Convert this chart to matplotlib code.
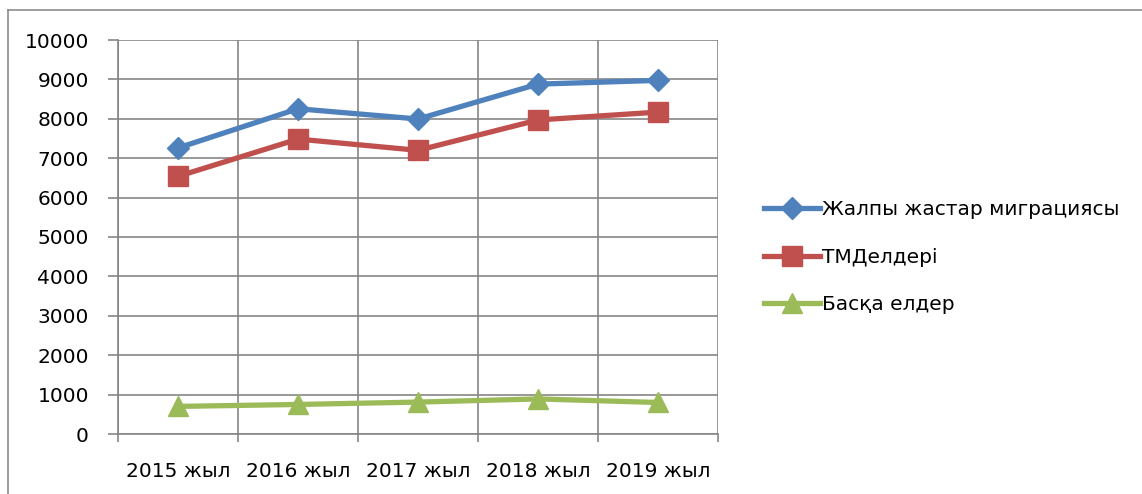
import numpy as np
import matplotlib.pyplot as plt
from matplotlib.lines import Line2D

plt.rcParams['font.family'] = ['DejaVu Sans']

# data
years = ["2015 жыл", "2016 жыл", "2017 жыл", "2018 жыл", "2019 жыл"]
total = [7260, 8255, 7995, 8880, 8975]
cis = [6540, 7485, 7200, 7970, 8170]
other = [700, 750, 810, 890, 800]
names = ["Жалпы жастар миграциясы", "ТМДелдері", "Басқа елдер"]

fig = plt.figure(figsize=(11.42, 4.94), dpi=100)
W, H = 1142, 494
ax = fig.add_axes([118 / W, 1 - 434 / H, 600 / W, 394 / H])

x = np.arange(len(years))
ax.plot(x, total, color='#4F81BD', lw=3.8, marker='D', ms=11, label=names[0])
ax.plot(x, cis, color='#C0504D', lw=3.8, marker='s', ms=14, label=names[1])
ax.plot(x, other, color='#9BBB59', lw=3.8, marker='^', ms=14, label=names[2])

ax.set_xlim(-0.5, 4.5)
ax.set_ylim(0, 10000)
ax.set_yticks(np.arange(0, 10001, 1000))
ax.set_xticks(x)
ax.set_xticklabels(years)
ax.set_xticks(np.arange(-0.5, 4.6, 1), minor=True)
ax.grid(True, which='major', axis='y', color='#868686', lw=1.2)
ax.grid(True, which='minor', axis='x', color='#868686', lw=1.2)
ax.set_axisbelow(True)
for s in ['top', 'right']:
    ax.spines[s].set_visible(False)
for s in ['left', 'bottom']:
    ax.spines[s].set_color('#868686')
    ax.spines[s].set_linewidth(1.2)
ax.tick_params(axis='x', which='major', length=0, pad=20, labelsize=14.5)
ax.tick_params(axis='x', which='minor', length=6, color='#868686', width=1.2)
ax.tick_params(axis='y', length=7, color='#868686', width=1.2, pad=14, labelsize=14.5)

leg = fig.legend(loc='upper left', bbox_to_anchor=(756 / W, 1 - 192 / H), frameon=False,
                 fontsize=14.5, handlelength=2.8, handletextpad=0.1, labelspacing=1.42,
                 borderaxespad=0)

# outer chart frame (top and left edges visible)
fig.add_artist(Line2D([8 / W, 1], [1 - 10.5 / H] * 2, transform=fig.transFigure,
                      color='#8c8c8c', lw=1.2))
fig.add_artist(Line2D([8 / W] * 2, [0, 1 - 10.5 / H], transform=fig.transFigure,
                      color='#8c8c8c', lw=1.2))

fig.savefig('out.png', dpi=100)
